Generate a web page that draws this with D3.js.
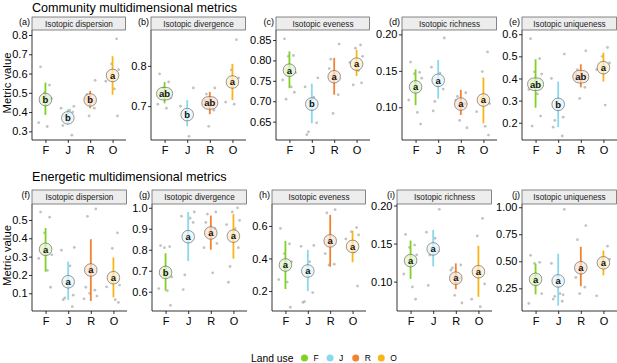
<!DOCTYPE html>
<html>
<head>
<meta charset="utf-8">
<script src="https://cdn.jsdelivr.net/npm/d3@7"></script>
<style>
  body { margin: 0; background: #fff; }
  svg { font-family: "Liberation Sans", Arial, sans-serif; }
</style>
</head>
<body>
<div id="chart"></div>
<script>
// land use groups
const landUse = ["F", "J", "R", "O"];
const landColors = ["#7ed321", "#8ad8eb", "#f3822f", "#fbb418"];

const metricNames = ["Isotopic dispersion", "Isotopic divergence", "Isotopic eveness", "Isotopic richness", "Isotopic uniqueness"];
const commTags = ["(a)", "(b)", "(c)", "(d)", "(e)"];
const energTags = ["(f)", "(g)", "(h)", "(i)", "(j)"];

// community metrics
const commMeans = [
  [0.465, 0.37, 0.463, 0.59],
  [0.731, 0.679, 0.708, 0.76],
  [0.776, 0.693, 0.76, 0.791],
  [0.128, 0.137, 0.1045, 0.110],
  [0.374, 0.283, 0.408, 0.449]
];
const commLow = [
  [0.385, 0.335, 0.42, 0.49],
  [0.707, 0.65, 0.68, 0.715],
  [0.732, 0.646, 0.716, 0.762],
  [0.103, 0.112, 0.0895, 0.078],
  [0.268, 0.18, 0.36, 0.386]
];
const commHigh = [
  [0.553, 0.415, 0.51, 0.69],
  [0.76, 0.715, 0.735, 0.805],
  [0.822, 0.743, 0.806, 0.826],
  [0.152, 0.165, 0.124, 0.141],
  [0.487, 0.386, 0.464, 0.517]
];
const commLetters = [
  ["b", "b", "b", "a"],
  ["ab", "b", "ab", "a"],
  ["a", "b", "a", "a"],
  ["a", "a", "a", "a"],
  ["ab", "b", "ab", "a"]
];
const commPoints = [
  [[0.635, 0.54, 0.50, 0.47, 0.345, 0.325], [0.43, 0.42, 0.41, 0.40, 0.38, 0.33, 0.28], [0.565, 0.49, 0.47, 0.42, 0.38], [0.78, 0.65, 0.62, 0.56, 0.52, 0.38]],
  [[0.78, 0.76, 0.745, 0.72, 0.705, 0.695], [0.745, 0.70, 0.625], [0.745, 0.73, 0.715, 0.69, 0.65], [0.865, 0.79, 0.77, 0.71, 0.705]],
  [[0.853, 0.812, 0.81, 0.77, 0.752, 0.735, 0.722, 0.705], [0.757, 0.735, 0.71, 0.647, 0.625, 0.618], [0.84, 0.803, 0.78, 0.716, 0.67], [0.838, 0.83, 0.81, 0.795, 0.775, 0.745, 0.74]],
  [[0.162, 0.148, 0.146, 0.14, 0.11, 0.093, 0.077], [0.195, 0.155, 0.147, 0.125, 0.108, 0.095], [0.12, 0.115, 0.11, 0.105, 0.082, 0.072], [0.176, 0.149, 0.105, 0.094, 0.074, 0.062]],
  [[0.58, 0.49, 0.43, 0.42, 0.35, 0.33, 0.23, 0.185], [0.51, 0.40, 0.28, 0.225, 0.21, 0.18, 0.14], [0.525, 0.44, 0.42, 0.36, 0.31], [0.54, 0.50, 0.47, 0.44, 0.28]]
];
const commDomains = [[0.255, 0.826], [0.616, 0.889], [0.605, 0.8745], [0.0552, 0.206], [0.122, 0.619]];
const commTicks = [[0.3, 0.4, 0.5, 0.6, 0.7, 0.8], [0.7, 0.8], [0.65, 0.7, 0.75, 0.8, 0.85], [0.1, 0.15, 0.2], [0.2, 0.3, 0.4, 0.5, 0.6]];
const commFormats = [".1f", ".1f", ".2f", ".2f", ".1f"];

// energetic metrics
const energMeans = [
  [0.34, 0.163, 0.227, 0.185],
  [0.692, 0.862, 0.88, 0.865],
  [0.36, 0.323, 0.508, 0.474],
  [0.1276, 0.143, 0.1045, 0.113],
  [0.333, 0.318, 0.44, 0.486]
];
const energLow = [
  [0.218, 0.064, 0.058, 0.078],
  [0.605, 0.746, 0.80, 0.757],
  [0.212, 0.2, 0.35, 0.377],
  [0.1035, 0.12, 0.09, 0.08],
  [0.194, 0.089, 0.27, 0.37]
];
const energHigh = [
  [0.456, 0.273, 0.395, 0.296],
  [0.783, 0.98, 0.963, 0.97],
  [0.508, 0.453, 0.668, 0.57],
  [0.154, 0.168, 0.124, 0.147],
  [0.478, 0.57, 0.635, 0.60]
];
const energLetters = [
  ["a", "a", "a", "a"],
  ["b", "a", "a", "a"],
  ["a", "a", "a", "a"],
  ["a", "a", "a", "a"],
  ["a", "a", "a", "a"]
];
const energPoints = [
  [[0.543, 0.515, 0.43, 0.31, 0.29, 0.225, 0.133], [0.35, 0.335, 0.25, 0.09, 0.075, 0.065, 0.027], [0.56, 0.52, 0.133, 0.117, 0.10, 0.085, 0.07], [0.43, 0.345, 0.145, 0.135, 0.065, 0.05]],
  [[0.82, 0.815, 0.81, 0.67, 0.615, 0.605, 0.535], [0.98, 0.96, 0.95, 0.93, 0.68, 0.61], [0.98, 0.97, 0.93, 0.90, 0.87, 0.83, 0.81, 0.69], [1.0, 0.98, 0.94, 0.92, 0.90, 0.81, 0.72, 0.645]],
  [[0.585, 0.49, 0.43, 0.38, 0.27, 0.255, 0.10], [0.48, 0.475, 0.38, 0.19, 0.135, 0.13], [0.70, 0.68, 0.43, 0.365, 0.36], [0.59, 0.565, 0.545, 0.52, 0.44, 0.23]],
  [[0.162, 0.148, 0.145, 0.135, 0.11, 0.093, 0.077], [0.195, 0.165, 0.157, 0.14, 0.135, 0.095], [0.122, 0.118, 0.115, 0.105, 0.082, 0.072], [0.183, 0.16, 0.097, 0.077, 0.067]],
  [[0.555, 0.49, 0.48, 0.20, 0.11], [0.98, 0.48, 0.20, 0.19, 0.175, 0.15, 0.13], [0.83, 0.70, 0.35, 0.26, 0.20], [0.64, 0.53, 0.52, 0.18]]
];
const energDomains = [[0.0035, 0.587], [0.508, 1.018], [0.077, 0.735], [0.0614, 0.202], [0.04, 1.03]];
const energTicks = [[0.1, 0.2, 0.3, 0.4, 0.5], [0.6, 0.7, 0.8, 0.9, 1.0], [0.2, 0.4, 0.6], [0.1, 0.15, 0.2], [0.25, 0.5, 0.75, 1.0]];
const energFormats = [".1f", ".1f", ".1f", ".2f", ".2f"];

// page layout
const W = 617, H = 363;
const rows = [
  { title: "Community multidimensional metrics", titleY: 11.5, stripTop: 17, top: 30, bottom: 140,
    lefts: [32, 151, 276, 402, 522], rights: [126, 246, 370, 497, 617],
    tags: commTags, means: commMeans, low: commLow, high: commHigh, letters: commLetters,
    points: commPoints, domains: commDomains, ticks: commTicks, formats: commFormats },
  { title: "Energetic multidimensional metrics", titleY: 180.5, stripTop: 190, top: 204, bottom: 311,
    lefts: [32, 152, 272, 397, 522], rights: [127, 247, 366, 492, 617],
    tags: energTags, means: energMeans, low: energLow, high: energHigh, letters: energLetters,
    points: energPoints, domains: energDomains, ticks: energTicks, formats: energFormats }
];
const jitter = [-0.22, 0.18, -0.05, 0.27, -0.3, 0.08, 0.22, -0.15];

const svg = d3.select('#chart')
  .append('svg')
  .attr('width', W)
  .attr('height', H);

rows.forEach(row => {
  svg.append('text')
    .attr('x', 32)
    .attr('y', row.titleY)
    .attr('font-size', '12.6px')
    .attr('fill', '#000')
    .text(row.title);

  svg.append('text')
    .attr('transform', `translate(11, ${(row.top + row.bottom) / 2 - 2}) rotate(-90)`)
    .attr('text-anchor', 'middle')
    .attr('font-size', '11.3px')
    .text('Metric value');

  metricNames.forEach((name, p) => {
    const left = row.lefts[p], right = row.rights[p];

    const x = d3.scalePoint()
      .domain(landUse)
      .range([left, right])
      .padding(0.6);
    const step = x.step();

    const y = d3.scaleLinear()
      .domain(row.domains[p])
      .range([row.bottom, row.top]);

    const g = svg.append('g');

    // grey jittered points
    landUse.forEach((lu, k) => {
      g.selectAll(null)
        .data(row.points[p][k])
        .enter()
        .append('circle')
        .attr('cx', (d, i) => x(lu) + jitter[(i + k * 3) % jitter.length] * step)
        .attr('cy', d => y(d))
        .attr('r', 1.4)
        .attr('fill', '#9a9a9a')
        .attr('fill-opacity', 0.6);
    });

    // range lines
    g.selectAll('.rng')
      .data(landUse)
      .enter()
      .append('line')
      .attr('x1', d => x(d))
      .attr('x2', d => x(d))
      .attr('y1', (d, k) => y(row.low[p][k]))
      .attr('y2', (d, k) => y(row.high[p][k]))
      .attr('stroke', (d, k) => landColors[k])
      .attr('stroke-width', 1.8);

    // letter labels
    landUse.forEach((lu, k) => {
      const txt = row.letters[p][k];
      const bw = txt.length > 1 ? 16 : 12.5;
      const bh = 12.5;
      const cx = x(lu), cy = y(row.means[p][k]);
      g.append('rect')
        .attr('x', cx - bw / 2)
        .attr('y', cy - bh / 2)
        .attr('width', bw)
        .attr('height', bh)
        .attr('rx', 6)
        .attr('fill', '#fff')
        .attr('fill-opacity', 0.7);
      g.append('rect')
        .attr('x', cx - bw / 2)
        .attr('y', cy - bh / 2)
        .attr('width', bw)
        .attr('height', bh)
        .attr('rx', 6)
        .attr('fill', landColors[k])
        .attr('fill-opacity', 0.18)
        .attr('stroke', '#555')
        .attr('stroke-width', 0.6);
      g.append('text')
        .attr('x', cx)
        .attr('y', cy + 3.3)
        .attr('text-anchor', 'middle')
        .attr('font-size', '9.5px')
        .attr('font-weight', 'bold')
        .attr('fill', '#111')
        .text(txt);
    });

    // axes
    const yAxis = d3.axisLeft(y)
      .tickValues(row.ticks[p])
      .tickFormat(d3.format(row.formats[p]))
      .tickSize(3)
      .tickSizeOuter(0);
    const ya = svg.append('g')
      .attr('class', 'y-axis')
      .attr('transform', `translate(${left}, 0)`)
      .call(yAxis);
    ya.select('.domain').attr('d', `M0,${row.top}V${row.bottom}`);

    const xAxis = d3.axisBottom(x)
      .tickSize(3)
      .tickSizeOuter(0);
    const xa = svg.append('g')
      .attr('class', 'x-axis')
      .attr('transform', `translate(0, ${row.bottom})`)
      .call(xAxis);
    xa.select('.domain').attr('d', `M${left},0H${right}`);

    [ya, xa].forEach(a => {
      a.selectAll('.domain').attr('stroke', '#000').attr('stroke-width', 0.8);
      a.selectAll('.tick line').attr('stroke', '#000').attr('stroke-width', 0.8);
      a.selectAll('.tick text')
        .attr('fill', '#000')
        .attr('font-size', '11px')
        .attr('font-family', '"Liberation Sans", Arial, sans-serif');
    });
    ya.selectAll('.tick text').attr('x', -4.5);
    xa.selectAll('.tick text').attr('y', 6);

    // strip
    svg.append('rect')
      .attr('x', left)
      .attr('y', row.stripTop)
      .attr('width', right - left - 0.5)
      .attr('height', row.top - row.stripTop)
      .attr('fill', '#ededed')
      .attr('stroke', '#555')
      .attr('stroke-width', 0.7);
    svg.append('text')
      .attr('x', (left + right) / 2)
      .attr('y', (row.stripTop + row.top) / 2 + 3)
      .attr('text-anchor', 'middle')
      .attr('font-size', '8.2px')
      .attr('fill', '#222')
      .text(name);

    // panel tag
    svg.append('text')
      .attr('x', left - 2)
      .attr('y', row.stripTop + 7.5)
      .attr('text-anchor', 'end')
      .attr('font-size', '9px')
      .text(row.tags[p]);
  });
});

// legend
const legend = svg.append('g');
legend.append('text')
  .attr('x', 251)
  .attr('y', 361.5)
  .attr('font-size', '10.3px')
  .text('Land use');
legend.selectAll('circle')
  .data(landUse)
  .enter()
  .append('circle')
  .attr('cx', (d, i) => 304.5 + i * 25.6)
  .attr('cy', 358)
  .attr('r', 3.5)
  .attr('fill', (d, i) => landColors[i]);
legend.selectAll('.key')
  .data(landUse)
  .enter()
  .append('text')
  .attr('x', (d, i) => 313.5 + i * 25.6)
  .attr('y', 361)
  .attr('font-size', '8.5px')
  .text(d => d);
</script>
</body>
</html>
